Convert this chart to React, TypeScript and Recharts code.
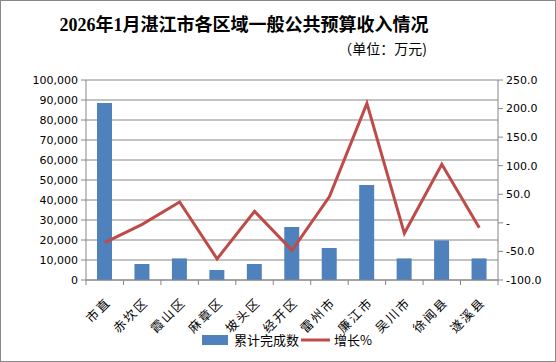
import React from "react";
import { ComposedChart, Bar, Line, XAxis, YAxis, CartesianGrid, Legend } from "recharts";

const categories = ["市直", "赤坎区", "霞山区", "麻章区", "坡头区", "经开区", "雷州市", "廉江市", "吴川市", "徐闻县", "遂溪县"];
const cumulative = [88500, 8000, 10800, 5000, 8000, 26500, 16000, 47500, 10800, 19800, 10800];
const growth = [-34.7, -2.6, 36.5, -63, 20.2, -48, 46, 209, -18.3, 102.4, -8.4];
const leftTicks = [0, 10000, 20000, 30000, 40000, 50000, 60000, 70000, 80000, 90000, 100000];
const rightTicks = [-100, -50, 0, 50, 100, 150, 200, 250];

const data = categories.map((name, i) => ({ name, value: cumulative[i], growth: growth[i] }));

const GRID = "#868686";
const BLUE = "#4F81BD";
const RED = "#BE4B48";
const AXIS_FONT = "'DejaVu Sans', Verdana, sans-serif";
const CJK_FONT = "'Noto Sans CJK SC', sans-serif";

const BAND = (498 - 86) / categories.length;

const XTick = (props: any) => {
  const { x, y, payload, index } = props;
  const axisY = 280;
  const isLast = index === categories.length - 1;
  const ax = x + 4;
  const ay = y + 13;
  return (
    <g>
      <line x1={x - BAND / 2} y1={axisY} x2={x - BAND / 2} y2={axisY + 5} stroke={GRID} />
      {isLast && <line x1={x + BAND / 2} y1={axisY} x2={x + BAND / 2} y2={axisY + 5} stroke={GRID} />}
      <text
        x={ax}
        y={ay}
        transform={`rotate(-45 ${ax} ${ay})`}
        textAnchor="end"
        dy="0.35em"
        fontSize={12.5}
        letterSpacing={2}
        fontFamily={CJK_FONT}
        fill="#000"
      >
        {payload.value}
      </text>
    </g>
  );
};

const LegendContent = () => (
  <svg width={180} height={20}>
    <rect x={0} y={5} width={26} height={10} fill={BLUE} />
    <text x={32} y={15} fontSize={13} fontFamily={CJK_FONT} fill="#000">累计完成数</text>
    <line x1={99} y1={10} x2={128} y2={10} stroke={RED} strokeWidth={3} />
    <text x={132} y={15} fontSize={13} fontFamily={CJK_FONT} fill="#000">增长%</text>
  </svg>
);

export default function App() {
  return (
    <div
      style={{
        position: "absolute",
        left: 0,
        top: 0,
        width: 556,
        height: 362,
        boxSizing: "border-box",
        border: "1px solid #888",
        background: "#fff",
        overflow: "hidden",
      }}
    >
      <div
        style={{
          position: "absolute",
          left: 0,
          width: 486,
          top: 12,
          textAlign: "center",
          fontFamily: "'Liberation Serif', 'Noto Sans CJK SC', serif",
          fontWeight: "bold",
          fontSize: 18,
          lineHeight: "24px",
          color: "#000",
        }}
      >
        2026年1月湛江市各区域一般公共预算收入情况
      </div>
      <div
        style={{
          position: "absolute",
          right: 128,
          top: 37,
          fontFamily: CJK_FONT,
          fontSize: 14,
          lineHeight: "20px",
          color: "#000",
        }}
      >
        （单位：万元)
      </div>
      <div style={{ position: "absolute", left: -1, top: -1 }}>
        <ComposedChart
          width={556}
          height={362}
          data={data}
          margin={{ top: 80, right: 0, bottom: 32, left: 0 }}
          barCategoryGap={0}
        >
          <CartesianGrid vertical={false} stroke={GRID} yAxisId="left" />
          <XAxis
            dataKey="name"
            height={50}
            tickLine={false}
            tick={<XTick />}
            stroke={GRID}
            interval={0}
            tickSize={5}
            tickMargin={2}
          />
          <YAxis
            yAxisId="left"
            orientation="left"
            width={86}
            domain={[0, 100000]}
            ticks={leftTicks}
            tickFormatter={(v: number) => v.toLocaleString("en-US")}
            stroke={GRID}
            tickSize={5}
            tickMargin={3}
            tick={{ fill: "#000", fontSize: 11, fontFamily: AXIS_FONT }}
            interval={0}
          />
          <YAxis
            yAxisId="right"
            orientation="right"
            width={58}
            domain={[-100, 250]}
            ticks={rightTicks}
            tickFormatter={(v: number) => (v === 0 ? "-" : v.toFixed(1))}
            stroke={GRID}
            tickSize={5}
            tickMargin={3}
            tick={{ fill: "#000", fontSize: 11, fontFamily: AXIS_FONT, textAnchor: "start" }}
            interval={0}
          />
          <Bar yAxisId="left" dataKey="value" name="累计完成数" fill={BLUE} barSize={15} isAnimationActive={false} />
          <Line
            yAxisId="right"
            dataKey="growth"
            name="增长%"
            stroke={RED}
            strokeWidth={3}
            dot={false}
            type="linear"
            isAnimationActive={false}
          />
          <Legend
            verticalAlign="middle"
            layout="horizontal"
            content={<LegendContent />}
            wrapperStyle={{ top: 330, left: 202, width: 180, height: 20 }}
          />
        </ComposedChart>
      </div>
    </div>
  );
}
